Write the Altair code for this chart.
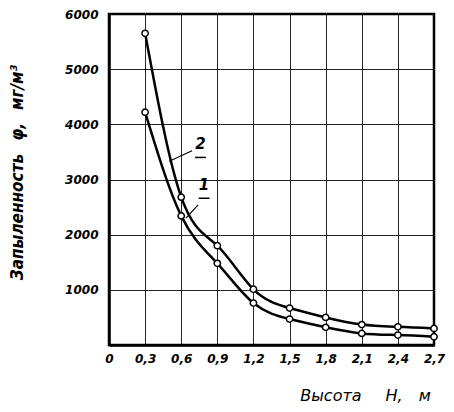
import altair as alt
import pandas as pd

H = [0.3, 0.6, 0.9, 1.2, 1.5, 1.8, 2.1, 2.4, 2.7]
curve1 = [4220, 2340, 1480, 760, 470, 320, 210, 180, 150]
curve2 = [5650, 2680, 1800, 1010, 670, 500, 370, 330, 300]
x_ticks = [0, 0.3, 0.6, 0.9, 1.2, 1.5, 1.8, 2.1, 2.4, 2.7]
y_ticks = [0, 1000, 2000, 3000, 4000, 5000, 6000]

ann_labels = ["2", "1"]
ann_x = [0.76, 0.79]
ann_y = [3640, 2900]
lead_x1 = [0.50, 0.64]
lead_y1 = [3330, 2300]
lead_x2 = [0.69, 0.74]
lead_y2 = [3520, 2540]

df = pd.DataFrame({
    "H": H * 2,
    "phi": curve1 + curve2,
    "curve": ["1"] * len(H) + ["2"] * len(H),
})
ann = pd.DataFrame({"t": ann_labels, "x": ann_x, "y": ann_y,
                    "ux1": [v - 0.045 for v in ann_x], "ux2": [v + 0.045 for v in ann_x],
                    "uy": [v - 240 for v in ann_y]})
lead = pd.DataFrame({"x": lead_x1, "y": lead_y1, "x2": lead_x2, "y2": lead_y2})

FONT = "DejaVu Sans"

xs = alt.Scale(domain=[0, 2.7], nice=False, zero=False)
ys = alt.Scale(domain=[0, 6000], nice=False)

xax = alt.Axis(
    values=x_ticks, tickCount=len(x_ticks),
    labelExpr="datum.value == 0 ? '0' : replace(format(datum.value, '.1f'), '.', ',')",
    title="Высота\u2002\u2002\u2002H,\u2002\u2002м",
    titleX=256, titleY=42, titleAnchor="middle", titleAlign="center",
    titleFont=FONT, titleFontSize=16, titleFontStyle="italic", titleFontWeight="normal",
    labelFont=FONT, labelFontSize=12, labelFontStyle="italic", labelFontWeight="bold",
    labelPadding=8, ticks=False, grid=True, gridColor="black", gridWidth=1, gridOpacity=0.85,
    domainColor="black", domainWidth=2.5, labelColor="black", titleColor="black",
    labelFlush=False, labelOverlap=False,
)
yax = alt.Axis(
    values=y_ticks, tickCount=len(y_ticks),
    labelExpr="datum.value == 0 ? '' : datum.value",
    title="Запыленность\u2002 φ,\u2002 мг/м³",
    titleX=-83, titleY=158, titleAngle=-90, titleAnchor="middle", titleAlign="center",
    titleFont="DejaVu Sans Condensed", titleFontSize=17, titleFontStyle="italic", titleFontWeight="bold",
    labelFont=FONT, labelFontSize=12, labelFontStyle="italic", labelFontWeight="bold",
    labelPadding=11, ticks=False, grid=True, gridColor="black", gridWidth=1, gridOpacity=0.85,
    domainColor="black", domainWidth=2.5, labelColor="black", titleColor="black",
    labelFlush=False, labelOverlap=False,
)

base = alt.Chart(df)
lines = base.mark_line(color="black", strokeWidth=2.5, interpolate="natural").encode(
    x=alt.X("H:Q", scale=xs, axis=xax),
    y=alt.Y("phi:Q", scale=ys, axis=yax),
    detail="curve:N",
)
pts = base.mark_point(shape="circle", size=40, filled=True, fill="white",
                      stroke="black", strokeWidth=1.5, opacity=1).encode(
    x=alt.X("H:Q", scale=xs),
    y=alt.Y("phi:Q", scale=ys),
)
txt = alt.Chart(ann).mark_text(font=FONT, fontSize=15, fontStyle="italic",
                               fontWeight="bold", color="black").encode(
    x=alt.X("x:Q", scale=xs), y=alt.Y("y:Q", scale=ys), text="t:N",
)
und = alt.Chart(ann).mark_rule(color="black", strokeWidth=1.5).encode(
    x=alt.X("ux1:Q", scale=xs), x2="ux2:Q", y=alt.Y("uy:Q", scale=ys),
)
leaders = alt.Chart(lead).mark_rule(color="black", strokeWidth=1.2).encode(
    x=alt.X("x:Q", scale=xs), y=alt.Y("y:Q", scale=ys),
    x2="x2:Q", y2="y2:Q",
)

chart = (lines + pts + leaders + txt + und).properties(
    width=325, height=331,
    autosize=alt.AutoSizeParams(type="none"),
    padding={"left": 101, "top": 6, "right": 12, "bottom": 59},
).configure_view(stroke="black", strokeWidth=2.5)

chart.save("out.html", embed_options={"renderer": "svg", "actions": False})
